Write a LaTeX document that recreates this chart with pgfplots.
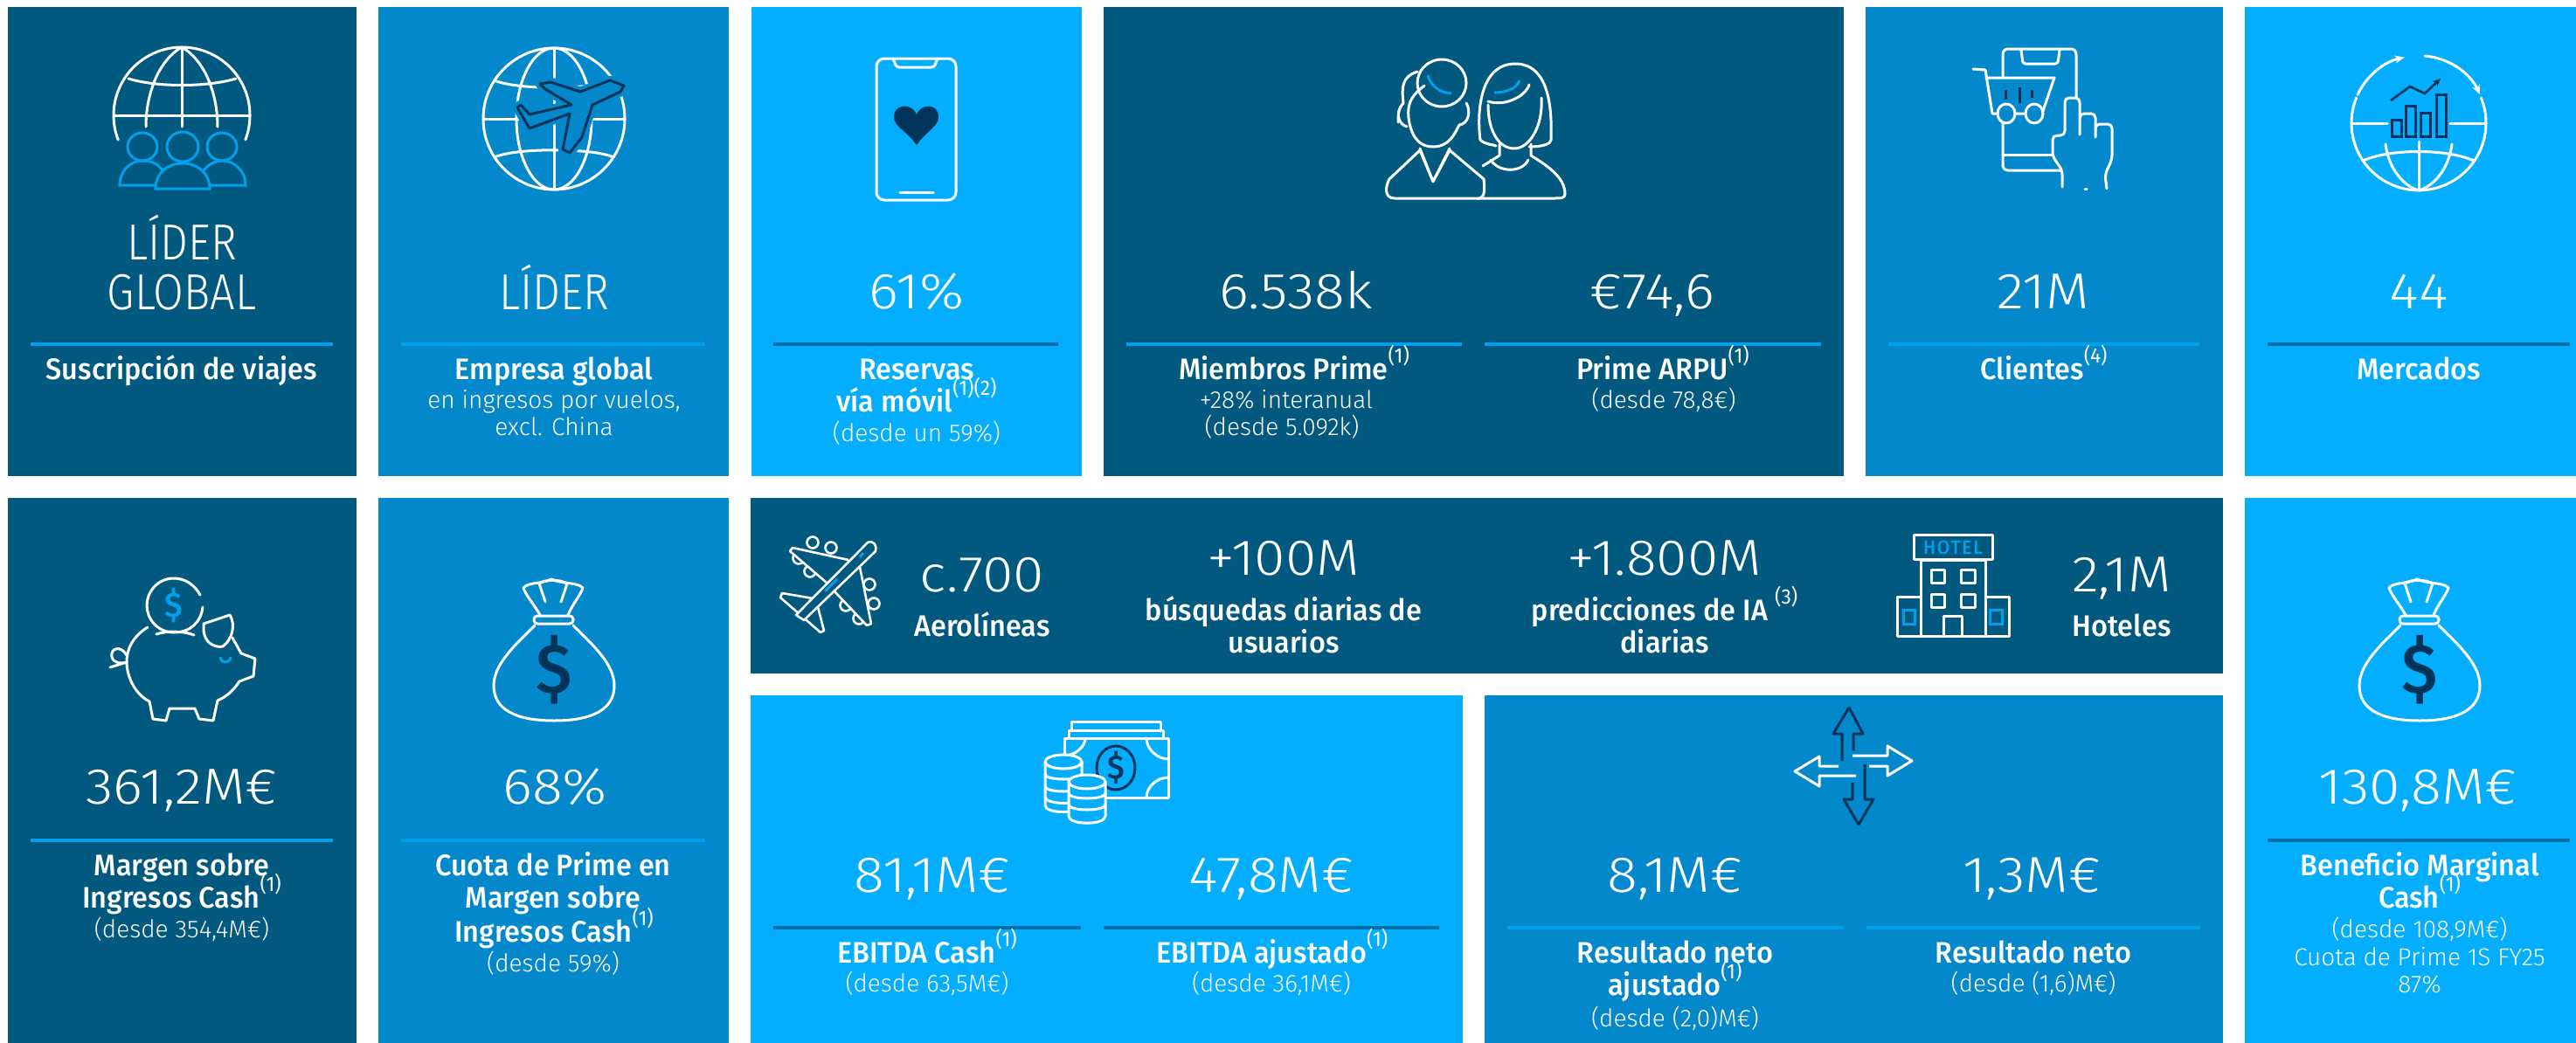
\documentclass[border=0pt]{standalone}
\usepackage{fontspec}
\usepackage{pgfplots}
\pgfplotsset{compat=1.18}
\usetikzlibrary{arrows.meta}
\newfontfamily\ltf[FakeStretch=1.11]{Fira Sans Light}
\newfontfamily\capf[FakeStretch=0.87]{Fira Sans Light}
\newfontfamily\smf[FakeStretch=1.0]{Fira Sans Light}
\newfontfamily\supf[FakeStretch=0.95]{Fira Sans}
\newfontfamily\mdf[FakeStretch=0.955]{Fira Sans Medium}
\definecolor{dark}{HTML}{01597F}
\definecolor{mid}{HTML}{0388CC}
\definecolor{light}{HTML}{02AEFD}
\definecolor{acc}{HTML}{029FEC}
\definecolor{acd}{HTML}{006FA6}
\definecolor{navy}{HTML}{01345A}

\newcommand{\panel}[5]{\addplot[fill=#1,draw=none] coordinates {(#2,#3)(#4,#3)(#4,#5)(#2,#5)} -- cycle;}
\newcommand{\rul}[4]{\addplot[#1,line width=3.2pt] coordinates {(#2,#4)(#3,#4)};}
\newcommand{\num}[3]{\node[anchor=base,white,inner sep=0pt,font={\ltf\fontsize{58}{58}\selectfont}] at (axis cs:#1,#2) {#3};}
\newcommand{\capn}[3]{\node[anchor=base,white,inner sep=0pt,font={\capf\fontsize{58}{58}\selectfont}] at (axis cs:#1,#2) {#3};}
\newcommand{\lab}[3]{\node[anchor=base,white,inner sep=0pt,font={\mdf\fontsize{34}{34}\selectfont}] at (axis cs:#1,#2) {#3};}
\newcommand{\sm}[3]{\node[anchor=base,white,inner sep=0pt,font={\smf\fontsize{28}{28}\selectfont}] at (axis cs:#1,#2) {#3};}
\newcommand{\spr}[1]{\raisebox{0.55em}{\supf\fontsize{24}{24}\selectfont #1}}
\tikzset{ic/.style={white,line width=3pt,line join=round,line cap=round}}

% money bag, drawn once and shifted
\newcommand{\bag}[1]{%
  \draw[ic,xshift=#1] (618,704) .. controls (610,690) and (602,682) .. (599,673) .. controls (605,666) and (618,669) .. (631,663) .. controls (644,669) and (660,666) .. (667,673) .. controls (664,682) and (656,690) .. (650,704);
  \draw[ic,xshift=#1] (617,668) -- (624,689) (649,668) -- (642,689) (617,668) .. controls (625,663) and (640,663) .. (649,668);
  \draw[ic,xshift=#1,rounded corners=4pt] (611,705) rectangle (656,714);
  \draw[ic,xshift=#1] (612,716) .. controls (590,738) and (565,760) .. (565,785) .. controls (565,812) and (590,825) .. (634,825) .. controls (678,825) and (703,812) .. (703,785) .. controls (703,760) and (678,738) .. (656,716);
  \node[navy,inner sep=0pt,font={\mdf\fontsize{80}{80}\selectfont},xshift=#1] at (axis cs:634,767) {\$};
}

\begin{document}
\begin{tikzpicture}
\begin{axis}[
    x=1pt, y=1pt,
    y dir=reverse,
    xmin=0, xmax=2948,
    ymin=0, ymax=1194,
    hide axis,
    clip=false,
    scale only axis,
]
% page and panels
\panel{white}{0}{0}{2948}{1194}
\panel{dark}{9}{8}{408}{545}
\panel{mid}{433}{8}{834}{545}
\panel{light}{860}{8}{1238}{545}
\panel{dark}{1263}{8}{2110}{545}
\panel{mid}{2135}{8}{2544}{545}
\panel{light}{2569}{8}{2948}{545}
\panel{dark}{9}{570}{408}{1194}
\panel{mid}{433}{570}{834}{1194}
\panel{dark}{859}{570}{2544}{771}
\panel{light}{859}{796}{1674}{1194}
\panel{mid}{1699}{796}{2544}{1194}
\panel{light}{2569}{570}{2948}{1194}
% rules
\rul{acc}{35}{381}{394}
\rul{acc}{459}{807}{394}
\rul{acd}{885}{1211}{394}
\rul{acc}{1289}{1673}{394}
\rul{acc}{1699}{2084}{394}
\rul{acc}{2161}{2517}{394}
\rul{acd}{2595}{2941}{394}
\rul{acc}{35}{381}{962}
\rul{acc}{459}{807}{962}
\rul{acd}{885}{1237}{1062}
\rul{acd}{1263}{1647}{1062}
\rul{acc}{1725}{2109}{1062}
\rul{acc}{2136}{2518}{1062}
\rul{acd}{2595}{2941}{962}

% row 1 text
\capn{208}{297}{LÍDER}
\capn{208}{354}{GLOBAL}
\lab{208}{434}{Suscripción de viajes}
\capn{634}{354}{LÍDER}
\lab{634}{434}{Empresa global}
\sm{634}{467}{en ingresos por vuelos,}
\sm{634}{498}{excl. China}
\num{1049}{353}{61\%}
\lab{1049}{434}{Reservas}
\lab{1049}{471}{vía móvil\spr{(1)(2)}}
\sm{1049}{505}{(desde un 59\%)}
\num{1483}{353}{6.538k}
\num{1891}{353}{€74,6}
\lab{1481}{434}{Miembros Prime\spr{(1)}}
\sm{1472}{467}{+28\% interanual}
\sm{1467}{498}{(desde 5.092k)}
\lab{1903}{434}{Prime ARPU\spr{(1)}}
\sm{1904}{467}{(desde 78,8€)}
\num{2338}{353}{21M}
\lab{2339}{434}{Clientes\spr{(4)}}
\num{2768}{353}{44}
\lab{2768}{434}{Mercados}

% row 2 text
\num{208}{920}{361,2M€}
\lab{208}{1002}{Margen sobre}
\lab{208}{1039}{Ingresos Cash\spr{(1)}}
\sm{208}{1073}{(desde 354,4M€)}
\num{635}{920}{68\%}
\lab{633}{1002}{Cuota de Prime en}
\lab{633}{1039}{Margen sobre}
\lab{634}{1078}{Ingresos Cash\spr{(1)}}
\sm{633}{1112}{(desde 59\%)}
\num{1124}{677}{c.700}
\lab{1124}{728}{Aerolíneas}
\num{1469}{658}{+100M}
\lab{1469}{710}{búsquedas diarias de}
\lab{1469}{747}{usuarios}
\num{1905}{658}{+1.800M}
\lab{1905}{710}{predicciones de IA \spr{(3)}}
\lab{1905}{747}{diarias}
\num{2428}{677}{2,1M}
\lab{2428}{728}{Hoteles}
\num{1067}{1021}{81,1M€}
\num{1455}{1021}{47,8M€}
\lab{1061}{1102}{EBITDA Cash\spr{(1)}}
\lab{1456}{1102}{EBITDA ajustado\spr{(1)}}
\sm{1061}{1135}{(desde 63,5M€)}
\sm{1455}{1135}{(desde 36,1M€)}
\num{1917}{1021}{8,1M€}
\num{2325}{1021}{1,3M€}
\lab{1917}{1102}{Resultado neto}
\lab{1917}{1139}{ajustado\spr{(1)}}
\sm{1917}{1175}{(desde (2,0)M€)}
\lab{2327}{1102}{Resultado neto}
\sm{2327}{1135}{(desde (1,6)M€)}
\num{2767}{920}{130,8M€}
\lab{2769}{1002}{Beneficio Marginal}
\lab{2769}{1039}{Cash\spr{(1)}}
\sm{2769}{1073}{(desde 108,9M€)}
\sm{2769}{1105}{Cuota de Prime 1S FY25}
\sm{2769}{1136}{87\%}

% globe + people
\draw[ic] (135.2,160) arc[start angle=201,end angle=-21,radius=78pt];
\draw[ic] (132,132) -- (284,132) (208,54) -- (208,145);
\draw[ic] (208,54) .. controls (180,70) and (167,110) .. (167,145);
\draw[ic] (208,54) .. controls (236,70) and (249,110) .. (249,145);
\draw[ic] (147,90) .. controls (180,100) and (236,100) .. (270,90);
\draw[acc,line width=3pt] (163,168) ellipse [x radius=17pt,y radius=16pt];
\draw[acc,line width=3pt] (254,168) ellipse [x radius=17pt,y radius=16pt];
\draw[acc,line width=3pt] (137,212) .. controls (137,195) and (150,184) .. (163,184) .. controls (176,184) and (190,190) .. (190,212) -- cycle;
\draw[acc,line width=3pt] (228,212) .. controls (228,195) and (241,184) .. (254,184) .. controls (268,184) and (281,195) .. (281,212) -- cycle;
\draw[acc,line width=3pt,fill=dark] (178,216) .. controls (178,198) and (192,187) .. (209,187) .. controls (226,187) and (240,198) .. (240,216) -- cycle;
\draw[acc,line width=3pt,fill=dark] (209,168) ellipse [x radius=18pt,y radius=17pt];

% globe + plane
\draw[ic] (634,136) circle [radius=81pt];
\draw[ic] (634,136) ellipse [x radius=43pt,y radius=81pt];
\draw[ic] (553,136) -- (715,136) (634,55) -- (634,217);
\draw[ic] (566,92) .. controls (590,103) and (678,103) .. (702,92);
\draw[ic] (566,180) .. controls (590,169) and (678,169) .. (702,180);
\draw[mid,line width=11pt,fill=mid,line join=round] (698,92) -- (664,105) -- (630,94) -- (618,96) -- (624,102) -- (654,120) -- (606,131) -- (596,120) -- (592,123) -- (606,147) -- (652,130) -- (644,171) -- (652,175) -- (666,157) -- (678,120) -- (710,105) -- (714,98) -- cycle;
\draw[navy,line width=3pt,line join=round,fill=mid] (698,92) -- (664,105) -- (630,94) -- (618,96) -- (624,102) -- (654,120) -- (606,131) -- (596,120) -- (592,123) -- (606,147) -- (652,130) -- (644,171) -- (652,175) -- (666,157) -- (678,120) -- (710,105) -- (714,98) -- cycle;

% phone + heart
\draw[ic,rounded corners=9pt] (1003,67) rectangle (1094,229);
\draw[ic,rounded corners=3pt] (1022,67) -- (1026,77) -- (1069,77) -- (1073,67);
\draw[ic] (1030,220) -- (1068,220);
\fill[navy] (1049,166) .. controls (1038,150) and (1023,145) .. (1023,134) .. controls (1023,118) and (1044,118) .. (1049,131) .. controls (1054,118) and (1074,118) .. (1074,134) .. controls (1074,145) and (1060,150) .. (1049,166) -- cycle;

% man and woman
\draw[ic] (1694,160) .. controls (1690,130) and (1693,73) .. (1734,73) .. controls (1775,73) and (1776,130) .. (1775,160) .. controls (1775,165) and (1765,168) .. (1750,168);
\draw[ic] (1694,160) .. controls (1700,166) and (1708,165) .. (1712,167);
\draw[ic] (1703,120) .. controls (1703,150) and (1715,170) .. (1733,170) .. controls (1750,170) and (1766,145) .. (1764,112);
\draw[ic] (1750,97) .. controls (1745,112) and (1720,122) .. (1703,116);
\draw[ic] (1716,165) -- (1716,178) -- (1697,190) (1752,165) -- (1752,178) .. controls (1775,192) and (1791,205) .. (1791,222) .. controls (1791,227) and (1786,227) .. (1780,227) -- (1690,227);
\draw[ic] (1706,183) .. controls (1715,198) and (1742,198) .. (1749,183);
\draw[ic,fill=dark] (1600,140) .. controls (1600,130) and (1600,125) .. (1606,118) .. controls (1604,100) and (1604,88) .. (1622,82);
\draw[ic,fill=dark] (1650,95) ellipse [x radius=28pt,y radius=27pt];
\draw[ic] (1630,98) .. controls (1618,108) and (1610,115) .. (1612,135) .. controls (1614,150) and (1620,168) .. (1640,168) .. controls (1660,168) and (1666,150) .. (1670,143);
\draw[ic] (1603,122) .. controls (1598,130) and (1600,142) .. (1610,145);
\draw[ic] (1678,118) .. controls (1684,128) and (1680,142) .. (1670,143);
\draw[ic,fill=dark] (1625,170) -- (1640,208) -- (1659,170);
\draw[ic,fill=dark] (1625,172) -- (1590,205) .. controls (1586,212) and (1583,227) .. (1596,227) -- (1692,227) .. controls (1700,227) and (1699,215) .. (1698,205) -- (1659,172) -- (1640,208) -- cycle;
\draw[acc,line width=3pt] (1634,86) .. controls (1636,95) and (1645,106) .. (1661,107);
\draw[acc,line width=3pt] (1739,92) .. controls (1736,102) and (1722,106) .. (1710,106);

% phone, cart and hand
\draw[ic,rounded corners=6pt] (2292,195) -- (2292,56) -- (2376,56) -- (2376,195) -- cycle;
\draw[ic,rounded corners=3pt] (2313,57) -- (2315,73) -- (2355,73) -- (2357,57);
\draw[ic] (2292,177) -- (2350,177);
\draw[ic,fill=mid,line join=round] (2258,79) -- (2272,80) -- (2280,130) -- (2337,130) -- (2351,89) -- (2273,89);
\draw[navy,line width=3pt] (2295,103) -- (2295,114) (2311,100) -- (2311,118) (2325,103) -- (2325,112);
\draw[ic,fill=mid] (2296,130) ellipse [x radius=10pt,y radius=11pt];
\draw[ic,fill=mid] (2328,130) ellipse [x radius=10pt,y radius=11pt];
\draw[ic,fill=mid,line join=round,rounded corners=5pt] (2360,214) -- (2360,195) -- (2349,179) -- (2349,155) -- (2363,155) -- (2363,112) -- (2380,112) -- (2380,157) -- (2380,130) -- (2398,130) -- (2398,160) -- (2398,142) -- (2417,142) -- (2417,182) -- (2409,200) -- (2411,216);
\fill[mid] (2345,200) rectangle (2358,214);
\draw[ic] (2386,216) -- (2388,216);

% chart in a globe
\draw[ic] (2693,141) -- (2732,141) (2804,141) -- (2844,141);
\draw[ic] (2696.6,112) arc[start angle=158,end angle=382,radius=77pt];
\draw[ic] (2768,162) -- (2768,218);
\draw[ic] (2704,184) .. controls (2735,170) and (2800,170) .. (2831,184);
\draw[ic] (2730,165) .. controls (2733,190) and (2748,212) .. (2768,218) .. controls (2788,212) and (2803,190) .. (2806,165);
\draw[ic,-{Stealth[length=11pt,width=9pt,open]}] (2698,108.5) arc[start angle=155,end angle=102,radius=77pt];
\draw[ic,-{Stealth[length=11pt,width=9pt,open]}] (2775,64) arc[start angle=85,end angle=25,radius=77pt];
\draw[navy,line width=3pt] (2737,137) rectangle (2748,156) (2753,121) rectangle (2764,156) (2770,129) rectangle (2781,156) (2788,108) rectangle (2799,156);
\draw[navy,line width=2.6pt,-{Stealth[length=9pt,width=8pt]}] (2736,115) -- (2758,99) -- (2775,107) -- (2793,90);

% piggy bank
\draw[ic] (229,681) .. controls (222,668) and (210,662) .. (199,662) .. controls (180,662) and (168,678) .. (168,693) .. controls (168,708) and (180,724) .. (199,724) .. controls (218,724) and (230,712) .. (232,695);
\node[acc,inner sep=0pt,font={\mdf\fontsize{40}{40}\selectfont}] at (axis cs:199,693) {\$};
\draw[ic] (169,718) .. controls (150,730) and (145,745) .. (145,758) .. controls (145,775) and (155,795) .. (171,803) -- (175,823) -- (190,825) -- (194,811) -- (223,811) -- (228,823) -- (244,825) -- (249,802) .. controls (258,798) and (266,792) .. (274,780) -- (290,774) -- (292,754) -- (276,748) -- (266,730);
\draw[ic] (179,726) .. controls (190,722) and (210,722) .. (222,727);
\draw[ic] (233,714) -- (263,704) .. controls (270,715) and (266,732) .. (255,740) .. controls (245,742) and (233,735) .. (233,720) -- cycle;
\draw[acc,line width=3pt] (252,752) .. controls (253,760) and (263,760) .. (264,752);
\draw[ic] (145,750) .. controls (138,738) and (126,742) .. (128,752) .. controls (130,760) and (140,760) .. (145,758) -- (126,764);

% money bags
\bag{0pt}
\bag{2135pt}

% banner plane
\foreach \ex/\ey in {930/621,951/627,914/639,927/654,995/669,1000/691,968/693,983/708}{
  \edef\tmp{\noexpand\draw[white,line width=2.6pt] (axis cs:\ex,\ey) circle [radius=6.5pt];}\tmp
}
\draw[white,line width=2.6pt,line join=round,fill=dark] (971,641) -- (907,627) -- (904,631) -- (946,667);
\draw[white,line width=2.6pt,line join=round,fill=dark] (984,649) -- (997,714) -- (992,716) -- (955,677);
\draw[white,line width=2.6pt,line join=round,fill=dark] (930,685) -- (895,679) -- (893,684) -- (939,724) -- (943,722) -- (936,695);
\draw[white,line width=2.6pt,line join=round,fill=dark] (993,621) .. controls (1000,618) and (1004,625) .. (1002,631) -- (920,710) -- (911,704) -- cycle;
\draw[acc,line width=3pt] (958,663) -- (944,677) (988,633) -- (984,638);

% hotel
\draw[ic,line cap=butt] (2190,612) rectangle (2280,640);
\node[acc,inner sep=0pt,font={\mdf\fontsize{22}{22}\selectfont\addfontfeature{LetterSpace=8}}] at (axis cs:2235,627) {HOTEL};
\draw[ic,line cap=butt] (2198,641) rectangle (2272,728);
\draw[ic,line cap=butt] (2171,683) rectangle (2198,728);
\draw[ic,line cap=butt] (2272,683) rectangle (2299,728);
\draw[ic,line cap=butt] (2210,652) rectangle (2225,667) (2244,652) rectangle (2260,667) (2210,680) rectangle (2225,695) (2244,680) rectangle (2260,695) (2224,705) rectangle (2245,728);
\draw[acc,line width=3pt] (2178,698) rectangle (2191,714) (2277,698) rectangle (2291,714);

% notes and coins
\draw[ic] (1226,836) -- (1226,826) -- (1328,826) -- (1328,836);
\draw[ic] (1223,845) -- (1223,836) -- (1331,836) -- (1331,845);
\draw[ic] (1218,845) rectangle (1337,913);
\draw[ic] (1242,845) .. controls (1242,855) and (1230,865) .. (1218,865) (1312,845) .. controls (1312,858) and (1325,869) .. (1337,869) (1312,913) .. controls (1312,900) and (1325,890) .. (1337,890);
\draw[navy,line width=3pt] (1277,879) ellipse [x radius=22pt,y radius=25pt];
\node[navy,inner sep=0pt,font={\mdf\fontsize{38}{38}\selectfont}] at (axis cs:1277,879) {\$};
\draw[ic,fill=light] (1196,872) -- (1196,922) .. controls (1196,932) and (1238,932) .. (1238,922) -- (1238,872);
\draw[ic,fill=light] (1217,872) ellipse [x radius=21pt,y radius=8pt];
\draw[ic] (1196,886) .. controls (1196,894) and (1238,894) .. (1238,886) (1196,900) .. controls (1196,908) and (1238,908) .. (1238,900) (1196,912) .. controls (1196,920) and (1222,920) .. (1222,919);
\draw[ic,fill=light] (1223,895) -- (1223,934) .. controls (1223,945) and (1265,945) .. (1265,934) -- (1265,895);
\draw[ic,fill=light] (1244,895) ellipse [x radius=21pt,y radius=8pt];
\draw[ic] (1223,908) .. controls (1223,916) and (1265,916) .. (1265,908) (1223,921) .. controls (1223,929) and (1265,929) .. (1265,921);

% four arrows
\draw[navy,line width=3pt,line join=round] (2108,871) -- (2108,840) -- (2098,840) -- (2116,810) -- (2132,840) -- (2121,840) -- (2121,859);
\draw[navy,line width=3pt,line join=round] (2120,896) -- (2120,915) -- (2110,915) -- (2127,944) -- (2144,915) -- (2134,915) -- (2134,875);
\draw[white,line width=3pt,line join=round] (2120,865) -- (2160,865) -- (2160,854) -- (2188,871) -- (2160,888) -- (2160,877) -- (2139,877);
\draw[white,line width=3pt,line join=round] (2104,877) -- (2082,877) -- (2082,866) -- (2054,883) -- (2082,900) -- (2082,888) -- (2124,888);
\end{axis}
\end{tikzpicture}
\end{document}
